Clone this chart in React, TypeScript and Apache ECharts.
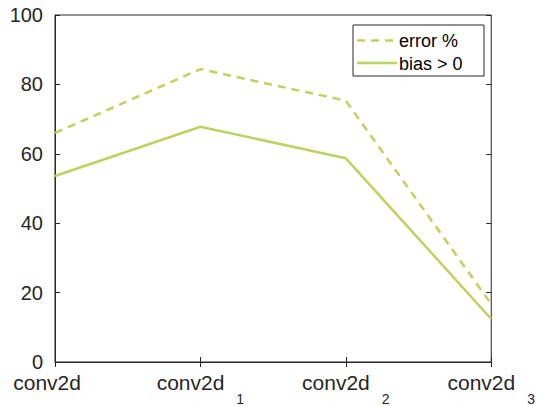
import React, { useEffect, useRef } from "react";
import * as echarts from "echarts";

const categories = ["conv2d", "conv2d_1", "conv2d_2", "conv2d_3"];
const seriesNames = ["error %", "bias > 0"];
const errorPct = [66, 84.4, 75.3, 16.7];
const biasPos = [53.6, 67.8, 58.7, 12.4];
const yTicks = [0, 20, 40, 60, 80, 100];

const LINE = "#bcd35f";
const AXIS = "#262626";
const FONT = "'Liberation Sans', Arial, Helvetica, sans-serif";
const DASH = [8, 6];

export default function App() {
  const ref = useRef<HTMLDivElement>(null);
  useEffect(() => {
    if (!ref.current) return;
    const chart = echarts.init(ref.current, null, { renderer: "svg" });
    const labelFmt = (v: string) => {
      const parts = v.split("_");
      if (parts.length === 1) return `{a|${parts[0]}}{s| }`;
      return `{a|${parts[0]}}{s|${parts[1]}}`;
    };
    const lx = 353, ly = 25, lw = 131, lh = 51;
    chart.setOption({
      animation: false,
      textStyle: { fontFamily: FONT },
      grid: {
        left: 55,
        right: 43,
        top: 15,
        bottom: 44,
        show: true,
        borderColor: AXIS,
        borderWidth: 1,
      },
      graphic: [
        {
          type: "rect",
          shape: { x: lx, y: ly, width: lw, height: lh },
          style: { fill: "#fff", stroke: AXIS, lineWidth: 1 },
          z: 100,
        },
        {
          type: "line",
          shape: { x1: lx + 4, y1: ly + 15.5, x2: lx + 44, y2: ly + 15.5 },
          style: { stroke: LINE, lineWidth: 2.5, lineDash: DASH },
          z: 101,
        },
        {
          type: "text",
          x: lx + 46,
          y: ly + 16,
          style: { text: seriesNames[0], font: `18px ${FONT}`, fill: "#000", verticalAlign: "middle", align: "left" },
          z: 101,
        },
        {
          type: "line",
          shape: { x1: lx + 4, y1: ly + 38, x2: lx + 44, y2: ly + 38 },
          style: { stroke: LINE, lineWidth: 2.5 },
          z: 101,
        },
        {
          type: "text",
          x: lx + 46,
          y: ly + 38.5,
          style: { text: seriesNames[1], font: `18px ${FONT}`, fill: "#000", verticalAlign: "middle", align: "left" },
          z: 101,
        },
      ],
      xAxis: [
        {
          type: "category",
          data: categories,
          boundaryGap: false,
          axisLine: { show: true, lineStyle: { color: AXIS, width: 1 } },
          axisTick: { show: true, inside: true, length: 5, lineStyle: { color: AXIS } },
          axisLabel: {
            margin: 10,
            color: AXIS,
            formatter: labelFmt,
            rich: {
              a: { fontSize: 21, fontFamily: FONT, color: AXIS, verticalAlign: "top", lineHeight: 20 },
              s: { fontSize: 14, fontFamily: FONT, color: AXIS, verticalAlign: "bottom", lineHeight: 34, padding: [0, 0, 0, 12] },
            },
          },
          splitLine: { show: false },
        },
        {
          type: "category",
          data: categories,
          position: "top",
          boundaryGap: false,
          axisLine: { show: false },
          axisTick: { show: true, inside: true, length: 5, lineStyle: { color: AXIS } },
          axisLabel: { show: false },
          splitLine: { show: false },
        },
      ],
      yAxis: [
        {
          type: "value",
          min: 0,
          max: 100,
          interval: 20,
          axisLine: { show: true, lineStyle: { color: AXIS, width: 1 } },
          axisTick: { show: true, inside: true, length: 5, lineStyle: { color: AXIS } },
          axisLabel: {
            margin: 12,
            fontSize: 20,
            lineHeight: 16,
            color: AXIS,
            fontFamily: FONT,
            formatter: (v: number) => (yTicks.includes(v) ? String(v) : ""),
          },
          splitLine: { show: false },
        },
        {
          type: "value",
          min: 0,
          max: 100,
          interval: 20,
          position: "right",
          axisLine: { show: false },
          axisTick: { show: true, inside: true, length: 5, lineStyle: { color: AXIS } },
          axisLabel: { show: false },
          splitLine: { show: false },
        },
      ],
      series: [
        {
          name: seriesNames[0],
          type: "line",
          data: errorPct,
          symbol: "none",
          lineStyle: { color: LINE, width: 2.5, type: DASH },
          itemStyle: { color: LINE },
        },
        {
          name: seriesNames[1],
          type: "line",
          data: biasPos,
          symbol: "none",
          lineStyle: { color: LINE, width: 2.5, type: "solid" },
          itemStyle: { color: LINE },
        },
      ],
    });
    return () => chart.dispose();
  }, []);
  return <div ref={ref} style={{ width: 538, height: 406, position: "absolute", left: 0, top: 0 }} />;
}
